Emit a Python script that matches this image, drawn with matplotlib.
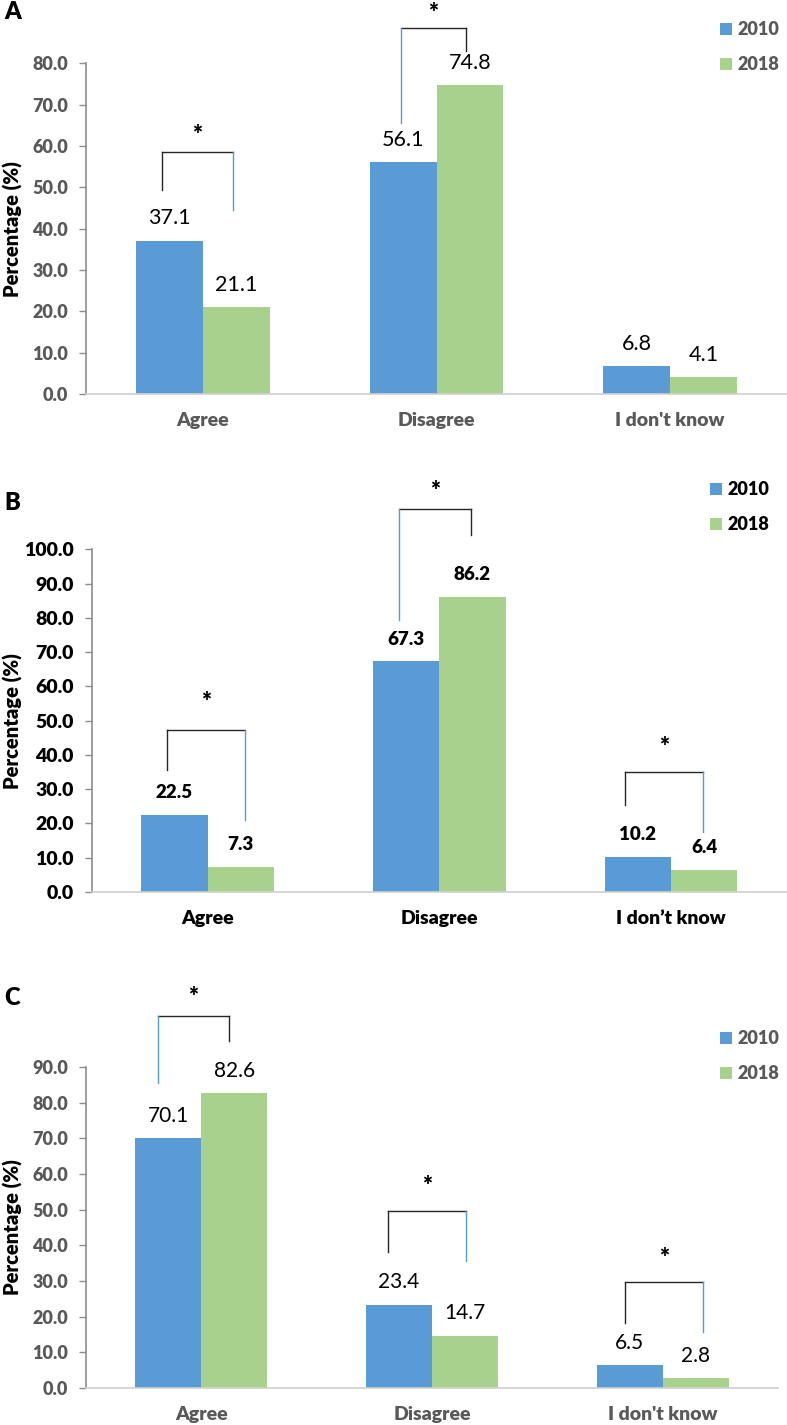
import numpy as np
import matplotlib
matplotlib.use("Agg")
import matplotlib.pyplot as plt

plt.rcParams['font.family'] = ['Lato', 'DejaVu Sans']

# ---- data ----
cats_ac = ["Agree", "Disagree", "I don't know"]
cats_b = ["Agree", "Disagree", "I don\u2019t know"]
years = ["2010", "2018"]

a_2010 = [37.1, 56.1, 6.8]
a_2018 = [21.1, 74.8, 4.1]
b_2010 = [22.5, 67.3, 10.2]
b_2018 = [7.3, 86.2, 6.4]
c_2010 = [70.1, 23.4, 6.5]
c_2018 = [82.6, 14.7, 2.8]

# significance brackets: category, left dx, right dx, top, left bottom, right bottom, left colour, right colour, star y
brackets_a = [(0, -0.176, 0.128, 58.5, 49.3, 44.5, 'k', 'b', 62.6),
              (1, -0.154, 0.128, 88.5, 65.5, 82.9, 'b', 'k', 92.1)]
brackets_b = [(0, -0.175, 0.161, 47.3, 35.6, 21.0, 'k', 'b', 55.4),
              (1, -0.172, 0.136, 111.7, 79.4, 104.2, 'b', 'k', 117.0),
              (2, -0.200, 0.136, 35.1, 25.4, 17.5, 'k', 'b', 42.4)]
brackets_c = [(0, -0.190, 0.120, 104.3, 85.5, 97.3, 'b', 'k', 109.7),
              (1, -0.189, 0.148, 49.6, 38.2, 35.7, 'k', 'b', 56.7),
              (2, -0.163, 0.176, 29.8, 18.1, 15.8, 'k', 'b', 36.5)]

BLUE = '#5B9BD5'
GREEN = '#A9D18E'
GRAY = '#595959'
LINE = {'k': '#262626', 'b': BLUE}
HEAVY = 'heavy'

W, H = 787, 1425
fig = plt.figure(figsize=(W / 100, H / 100), dpi=100)


def px_axes(left, right, top, bottom):
    return fig.add_axes([left / W, 1 - bottom / H, (right - left) / W, (bottom - top) / H])


def panel(ax, cats, v10, v18, ymax, tick_color, tick_size, lab_weight, lab_size,
          cat_color, brackets, letter, letter_y, leg_x, leg_y0, leg_color):
    x = np.arange(len(cats))
    w = 0.286
    bars1 = ax.bar(x - w / 2, v10, w, color=BLUE, label=years[0])
    bars2 = ax.bar(x + w / 2, v18, w, color=GREEN, label=years[1])
    for bars, vals in ((bars1, v10), (bars2, v18)):
        for b, v in zip(bars, vals):
            ax.annotate(f"{v:.1f}", (b.get_x() + b.get_width() / 2, v),
                        xytext=(0, 16), textcoords='offset points',
                        ha='center', va='center', fontsize=lab_size,
                        fontweight=lab_weight, color='black')
    ax.set_xlim(-0.5, 2.5)
    ax.set_ylim(0, ymax)
    ax.set_yticks(np.arange(0, ymax + 1, 10))
    ax.set_yticklabels([f"{t:.1f}" for t in np.arange(0, ymax + 1, 10)])
    ax.set_xticks(x)
    ax.set_xticklabels(cats)
    ax.tick_params(axis='y', length=5, width=1.0, color='#8C8C8C', pad=8,
                   labelsize=tick_size, labelcolor=tick_color)
    ax.tick_params(axis='x', length=0, pad=13, labelsize=14, labelcolor=cat_color)
    for t in ax.get_yticklabels() + ax.get_xticklabels():
        t.set_fontweight(HEAVY)
    for s in ('top', 'right'):
        ax.spines[s].set_visible(False)
    ax.spines['left'].set_color('#8C8C8C')
    ax.spines['left'].set_linewidth(1.2)
    ax.spines['bottom'].set_color('#D0D0D0')
    ax.spines['bottom'].set_linewidth(1.2)

    for (ci, dl, dr, top, lb, rb, lc, rc, sy) in brackets:
        xl, xr = ci + dl, ci + dr
        ax.plot([xl, xr], [top, top], color=LINE['k'], lw=1.0, clip_on=False)
        ax.plot([xl, xl], [lb, top], color=LINE[lc], lw=1.0, clip_on=False)
        ax.plot([xr, xr], [rb, top], color=LINE[rc], lw=1.0, clip_on=False)
        ax.text((xl + xr) / 2, sy, "*", ha='center', va='center', fontsize=17,
                fontweight=HEAVY, color='black', clip_on=False)

    pos = ax.get_position()
    fig.text(13 / W, pos.y0 + pos.height / 2, "Percentage (%)", rotation=90,
             ha='center', va='center', fontsize=14.5, fontweight=HEAVY, color='black')
    fig.text(4 / W, 1 - letter_y / H, letter, ha='left', va='center',
             fontsize=17, fontweight=HEAVY, color='black')

    leg = ax.legend(loc='upper left', bbox_to_anchor=(leg_x / W, 1 - (leg_y0 - 12) / H),
                    bbox_transform=fig.transFigure, frameon=False, fontsize=13,
                    handlelength=0.65, handleheight=0.65, handletextpad=0.3,
                    labelspacing=1.0, borderpad=0, borderaxespad=0)
    for t in leg.get_texts():
        t.set_fontweight(HEAVY)
        t.set_color(leg_color)


ax_a = px_axes(86, 787, 63.3, 394)
panel(ax_a, cats_ac, a_2010, a_2018, 80, GRAY, 13, 'normal', 15.5, GRAY,
      brackets_a, "A", 12, 720, 33, GRAY)

ax_b = px_axes(91.7, 787, 549.3, 892)
panel(ax_b, cats_b, b_2010, b_2018, 100, 'black', 14, HEAVY, 13.5, 'black',
      brackets_b, "B", 503, 710, 493, 'black')

ax_c = px_axes(86, 778, 1067, 1388)
panel(ax_c, cats_ac, c_2010, c_2018, 90, GRAY, 13, 'normal', 15, GRAY,
      brackets_c, "C", 998, 720, 1042, GRAY)

fig.savefig("out.png", dpi=100)
